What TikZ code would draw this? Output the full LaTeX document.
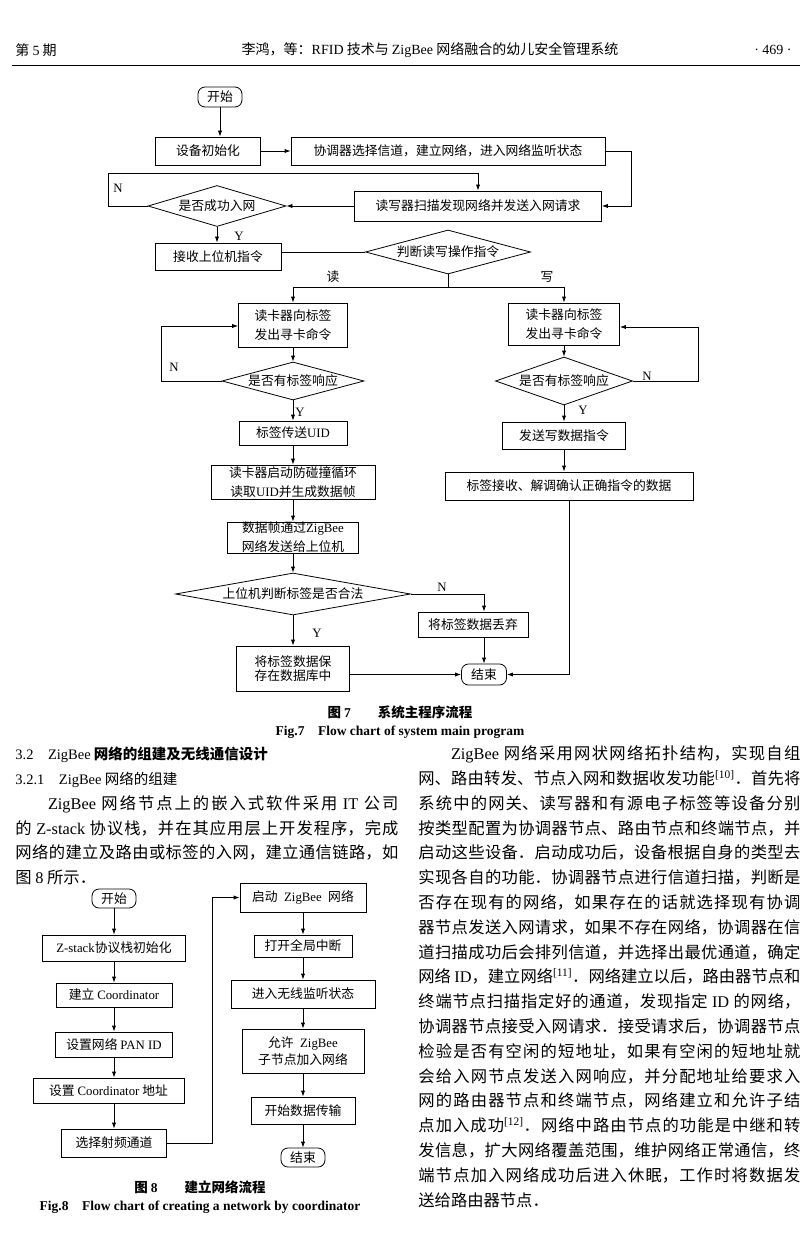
\documentclass[tikz,border=0pt]{standalone}
\usepackage{fontspec}
\setmainfont{Noto Sans CJK SC}
\newfontfamily\latfont{Liberation Serif}
\usetikzlibrary{arrows.meta,shapes.geometric,calc}
\XeTeXlinebreaklocale "zh"
\XeTeXlinebreakskip=0pt plus 2pt
\newcommand{\enw}[1]{{\latfont #1}}
\newcommand{\ffont}{\fontsize{12.8}{19}\selectfont}
\newcommand{\bodyfont}{\fontsize{16.3}{24.8}\selectfont}
\newcommand{\capfont}{\fontsize{13.5}{16}\selectfont}
\newcommand{\hdfont}{\fontsize{14}{17}\selectfont}
\begin{document}
\begin{tikzpicture}[x=1pt,y=-1pt,line width=0.8pt,
 pbox/.style={draw, inner sep=0pt, font=\ffont, align=center},
 term/.style={draw, rounded corners=7pt, inner sep=0pt, font=\ffont},
 dia/.style={draw, diamond, inner sep=0pt, font=\ffont},
 lbl/.style={inner sep=0pt, font=\ffont},
 arr/.style={-{Latex[length=6pt,width=4.2pt]}},
 col/.style={anchor=north west, inner sep=0pt, text width=#1, align=justify, font=\bodyfont}]
\useasboundingbox (0,0) rectangle (802,1233);
\fill[white] (0,0) rectangle (802,1233);

% ---------- header ----------
\node[anchor=west, inner sep=0pt, font=\hdfont] (hl) at (15,50) {第 \enw{5} 期};
\node[inner sep=0pt, font=\hdfont] (ht) at (430,50) {李鸿，等：\enw{RFID} 技术与 \enw{ZigBee} 网络融合的幼儿安全管理系统};
\node[anchor=east, inner sep=0pt, font=\hdfont] (hr) at (792,50) {\enw{· 469 ·}};
\coordinate (ruleL) at (12,65);
\coordinate (ruleR) at (800,65);
\draw[line width=0.7pt] (ruleL) -- (ruleR);

% ---------- Fig. 7 ----------
\node[term, minimum width=44, minimum height=20] (s7) at (220,97) {开始};
\node[pbox, minimum width=105, minimum height=28] (init) at (208,151) {设备初始化};
\node[pbox, minimum width=314, minimum height=28] (coord) at (448,151) {协调器选择信道，建立网络，进入网络监听状态};
\node[pbox, minimum width=247, minimum height=30] (scan) at (478,206) {读写器扫描发现网络并发送入网请求};
\node[dia, aspect=3.37, minimum width=138, minimum height=41] (d1) at (217,206) {是否成功入网};
\node[pbox, minimum width=126, minimum height=27] (rcv) at (218,256.5) {接收上位机指令};
\node[dia, aspect=3.75, minimum width=165, minimum height=44] (d2) at (448,252) {判断读写操作指令};

\draw[arr] (s7.south) -- (s7.south |- init.north);
\draw[arr] (init.east) -- (coord.west);
\coordinate (cR) at (631,151);
\draw[arr] (coord.east) -- (cR) |- (scan.east);
\draw[arr] (scan.west) -- (d1.east);
\coordinate (n1a) at (108,206);
\coordinate (n1b) at (108,173);
\draw[arr] (d1.west) -- (n1a) -- (n1b) -| (scan.north);
\node[lbl] (lN1) at (118,188) {\enw{N}};
\draw[arr] (d1.south) -- (d1.south |- rcv.north);
\node[lbl] (lY1) at (239,236) {\enw{Y}};
\draw (rcv.east |- d2.west) -- (d2.west);
\coordinate (br) at (448,287);
\draw (d2.south) -- (br);

% left branch
\node[pbox, minimum width=109, minimum height=44] (r1) at (293,325) {读卡器向标签\\发出寻卡命令};
\node[dia, aspect=3.7, minimum width=142, minimum height=38] (r2) at (293,381) {是否有标签响应};
\node[pbox, minimum width=108, minimum height=24] (r3) at (293,433) {标签传送\enw{UID}};
\node[pbox, minimum width=164, minimum height=34] (r4) at (293,482) {读卡器启动防碰撞循环\\读取\enw{UID}并生成数据帧};
\node[pbox, minimum width=131, minimum height=31] (r5) at (293,537.5) {数据帧通过\enw{ZigBee}\\网络发送给上位机};
\node[dia, aspect=5.6, minimum width=235, minimum height=42] (r6) at (293,594) {上位机判断标签是否合法};
\node[pbox, minimum width=110, minimum height=25] (discard) at (473,624.5) {将标签数据丢弃};
\node[pbox, minimum width=113, minimum height=45, font=\fontsize{12.8}{14.5}\selectfont] (save) at (293,668.5) {将标签数据保\\存在数据库中};
\node[term, minimum width=45, minimum height=21] (end) at (484,674.5) {结束};

% right branch
\node[pbox, minimum width=111, minimum height=42] (w1) at (564,324) {读卡器向标签\\发出寻卡命令};
\node[dia, aspect=2.85, minimum width=137, minimum height=48] (w2) at (564,381) {是否有标签响应};
\node[pbox, minimum width=123, minimum height=27] (w3) at (564,435.5) {发送写数据指令};
\node[pbox, minimum width=248, minimum height=28] (w4) at (569,486) {标签接收、解调确认正确指令的数据};

\draw[arr] (br) -| (r1.north);
\draw[arr] (br) -| (w1.north);
\node[lbl] (lR) at (333,277) {读};
\node[lbl] (lW) at (547,277) {写};

\draw[arr] (r1.south) -- (r2.north);
\coordinate (n2a) at (161,381);
\coordinate (n2b) at (161,326);
\draw[arr] (r2.west) -- (n2a) -- (n2b) -- (n2b -| r1.west);
\node[lbl] (lN2) at (174,367) {\enw{N}};
\draw[arr] (r2.south) -- (r3.north);
\node[lbl] (lY2) at (300,412) {\enw{Y}};
\draw[arr] (r3.south) -- (r4.north);
\draw[arr] (r4.south) -- (r5.north);
\draw[arr] (r5.south) -- (r6.north);
\draw[arr] (r6.east) -| (end.north |- discard.north);
\node[lbl] (lN3) at (442,587) {\enw{N}};
\draw[arr] (end.north |- discard.south) -- (end.north);
\draw[arr] (r6.south) -- (save.north);
\node[lbl] (lY3) at (317,633) {\enw{Y}};
\draw[arr] (save.east |- end.west) -- (end.west);

\draw[arr] (w1.south) -- (w2.north);
\coordinate (n3a) at (698,381);
\coordinate (n3b) at (698,327);
\draw[arr] (w2.east) -- (n3a) -- (n3b) -- (n3b -| w1.east);
\node[lbl] (lN4) at (647,376) {\enw{N}};
\draw[arr] (w2.south) -- (w3.north);
\node[lbl] (lY4) at (583,410) {\enw{Y}};
\draw[arr] (w3.south) -- (w3.south |- w4.north);
\draw[arr] (w4.south) |- (end.east);

% captions fig 7
\node[inner sep=0pt, font=\capfont\bfseries] (c7a) at (400,712) {图 \enw{7}\qquad 系统主程序流程};
\node[inner sep=0pt, font=\capfont] (c7b) at (400,732) {\latfont\bfseries Fig.7\quad Flow chart of system main program};

% ---------- left column text ----------
\node[col=383pt] (tl) at (15,742) {{\fontsize{14.5}{24.8}\selectfont\strut\enw{3.2\quad ZigBee} {\bfseries 网络的组建及无线通信设计}\par}
{\fontsize{14.5}{24.8}\selectfont\strut\enw{3.2.1\quad ZigBee} 网络的组建\par}
\hspace*{2em}\enw{ZigBee} 网络节点上的嵌入式软件采用 \enw{IT} 公司\linebreak
的 \enw{Z-stack} 协议栈，并在其应用层上开发程序，完成\linebreak
网络的建立及路由或标签的入网，建立通信链路，如\linebreak
图 \enw{8} 所示．};

% ---------- right column text ----------
\node[col=382pt] (tr) at (418,742) {\strut\hspace*{2em}\enw{ZigBee} 网络采用网状网络拓扑结构，实现自组\linebreak
网、路由转发、节点入网和数据收发功能\textsuperscript{\enw{[10]}}．首先将\linebreak
系统中的网关、读写器和有源电子标签等设备分别\linebreak
按类型配置为协调器节点、路由节点和终端节点，并\linebreak
启动这些设备．启动成功后，设备根据自身的类型去\linebreak
实现各自的功能．协调器节点进行信道扫描，判断是\linebreak
否存在现有的网络，如果存在的话就选择现有协调\linebreak
器节点发送入网请求，如果不存在网络，协调器在信\linebreak
道扫描成功后会排列信道，并选择出最优通道，确定\linebreak
网络 \enw{ID}，建立网络\textsuperscript{\enw{[11]}}．网络建立以后，路由器节点和\linebreak
终端节点扫描指定好的通道，发现指定 \enw{ID} 的网络，\linebreak
协调器节点接受入网请求．接受请求后，协调器节点\linebreak
检验是否有空闲的短地址，如果有空闲的短地址就\linebreak
会给入网节点发送入网响应，并分配地址给要求入\linebreak
网的路由器节点和终端节点，网络建立和允许子结\linebreak
点加入成功\textsuperscript{\enw{[12]}}．网络中路由节点的功能是中继和转\linebreak
发信息，扩大网络覆盖范围，维护网络正常通信，终\linebreak
端节点加入网络成功后进入休眠，工作时将数据发\linebreak
送给路由器节点．};

% ---------- Fig. 8 ----------
\node[term, minimum width=44, minimum height=19] (s8) at (114,898.5) {开始};
\node[pbox, minimum width=143, minimum height=26] (a1) at (114,948) {\enw{Z-stack}协议栈初始化};
\node[pbox, minimum width=116, minimum height=24] (a2) at (114,995) {建立 \enw{Coordinator}};
\node[pbox, minimum width=117, minimum height=25] (a3) at (114,1044.5) {设置网络 \enw{PAN ID}};
\node[pbox, minimum width=151, minimum height=25] (a4) at (108.5,1090.5) {设置 \enw{Coordinator} 地址};
\node[pbox, minimum width=105, minimum height=28] (a5) at (114,1143) {选择射频通道};
\node[pbox, minimum width=126, minimum height=29] (b1) at (303,897.5) {启动\enskip\enw{ZigBee}\enskip 网络};
\node[pbox, minimum width=98, minimum height=22] (b2) at (303,946) {打开全局中断};
\node[pbox, minimum width=144, minimum height=28] (b3) at (303,994) {进入无线监听状态};
\node[pbox, minimum width=122, minimum height=44, font=\fontsize{12.8}{17}\selectfont] (b4) at (303,1051) {允许\enskip\enw{ZigBee}\\子节点加入网络};
\node[pbox, minimum width=104, minimum height=27] (b5) at (303,1110.5) {开始数据传输};
\node[term, minimum width=44, minimum height=19] (e8) at (303,1157.5) {结束};

\draw[arr] (s8.south) -- (a1.north);
\draw[arr] (a1.south) -- (a2.north);
\draw[arr] (a2.south) -- (a3.north);
\draw[arr] (a3.south) -- (a3.south |- a4.north);
\draw[arr] (a3.south |- a4.south) -- (a5.north);
\coordinate (l1) at (212,1143);
\draw[arr] (a5.east) -- (l1) |- (b1.west);
\draw[arr] (b1.south) -- (b2.north);
\draw[arr] (b2.south) -- (b3.north);
\draw[arr] (b3.south) -- (b4.north);
\draw[arr] (b4.south) -- (b5.north);
\draw[arr] (b5.south) -- (e8.north);

\node[inner sep=0pt, font=\capfont\bfseries] (c8a) at (200,1187) {图 \enw{8}\qquad 建立网络流程};
\node[inner sep=0pt, font=\capfont] (c8b) at (200,1207) {\latfont\bfseries Fig.8\quad Flow chart of creating a network by coordinator};
\end{tikzpicture}
\end{document}
